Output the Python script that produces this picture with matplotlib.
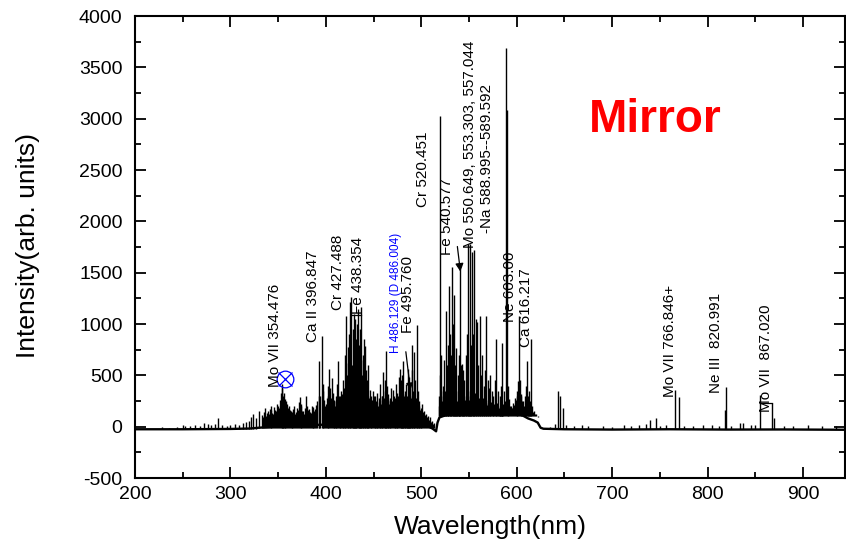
import matplotlib
matplotlib.use("Agg")
import matplotlib.pyplot as plt
from matplotlib.ticker import MultipleLocator

plt.rcParams["axes.unicode_minus"] = False

# continuum under the emission lines (nm, counts)
base_nm = [200, 250, 300, 320, 330, 345, 360, 380, 400, 425, 450, 475, 500, 508,
           512, 515.5, 517, 519, 525, 535, 550, 565, 575, 585, 592, 598, 603,
           606, 612, 618, 622, 625, 628, 650, 700, 760, 820, 880, 944]
base_counts = [-25, -25, -22, -18, -10, 0, 10, 15, 20, 25, 30, 25, 15, 0,
               -20, -45, 40, 90, 110, 130, 140, 150, 120, 110, 130, 180, 240,
               110, 80, 60, 40, -10, -20, -25, -28, -25, -28, -27, -30]

# weak lines below 330 nm (floor -25)
uv_nm = [228, 236, 244, 250, 252, 258, 263, 268, 272, 276, 280, 284, 287, 291,
         296, 300, 305, 309, 313, 316, 319, 322, 324, 327]
uv_top = [-5, -10, 0, 20, 10, 5, 15, 10, 40, 25, 20, 30, 80, 15,
          10, 20, 30, 15, 40, 50, 60, 90, 120, 80]

# 330-515 nm, strong lines (floor -10)
blue_nm = [330, 333, 336, 338, 341, 343, 345, 347, 349, 351, 352.5, 353.6, 354.5,
           355.5, 356.5, 357.5, 358.5, 359.5, 361, 362.5, 364, 366, 368, 370,
           371.5, 372.8, 374, 376, 378, 379.5, 381, 383, 385, 387, 389, 391,
           392.7, 394, 395.8, 397, 399, 401, 402.5, 403.4, 404.5, 406, 407.5,
           409, 410.5, 412, 413.2, 414.5, 416, 417.5, 419, 420.5, 421.6, 423,
           424, 425, 426.8, 428, 429.3, 430.4, 431.5, 432.6, 433.8, 435, 436.2,
           437.3, 438.5, 439.5, 440.8, 442, 443.5, 444.5, 446, 447.5, 449, 451,
           452.5, 454, 455.5, 457, 458.5, 460, 461.5, 462.8, 464, 465.5, 467,
           468.5, 470.5, 472, 473.5, 475, 476.5, 477.5, 479, 480, 481, 482.5,
           484, 485, 486.1, 487.3, 488.5, 490, 490.7, 492, 493.3, 495, 496.5,
           498, 499.5, 501, 503, 505, 507, 509, 511, 513]
blue_top = [150, 110, 180, 130, 170, 200, 120, 160, 220, 180, 330, 420, 380,
            300, 330, 270, 250, 220, 200, 160, 140, 170, 120, 180,
            240, 285, 200, 150, 185, 295, 160, 140, 200, 120, 170, 250,
            640, 300, 880, 420, 200, 280, 400, 565, 380, 470, 330,
            250, 300, 420, 640, 300, 350, 450, 380, 700, 1080, 780,
            900, 1215, 1265, 950, 1100, 1050, 850, 1000, 1150, 800, 950,
            1165, 700, 850, 785, 550, 450, 600, 360, 300, 350, 300,
            250, 330, 280, 420, 300, 530, 450, 740, 400, 320, 250,
            380, 360, 280, 420, 330, 480, 560, 450, 500, 640, 350,
            420, 300, 560, 480, 420, 550, 800, 725, 450, 990, 350,
            250, 180, 220, 150, 120, 100, 90, 60, 40]

# 330-515 nm, weak lines (floor -10)
blue_weak_nm = [334.5, 335.5, 337, 339.5, 340, 342, 344, 346, 348, 350, 352, 355,
                357, 360, 363, 365, 367, 369, 371, 373.5, 375, 377, 380, 382,
                384, 386, 388, 390, 393.3, 396.5, 398, 400, 402, 405, 408,
                409.6, 411, 413.8, 415, 416.8, 418.2, 419.7, 422.3, 423.5,
                425.8, 427.4, 428.6, 430, 431, 432, 434.4, 435.6, 436.8, 438,
                439, 441.3, 442.8, 444, 445.5, 446.8, 448.2, 450, 451.8, 453.2,
                454.8, 456.2, 457.8, 459.3, 460.8, 462.2, 463.4, 464.8, 466.2,
                467.7, 469.3, 471.3, 472.7, 474.2, 475.7, 478.3, 479.6, 480.5,
                481.8, 483.3, 484.5, 485.6, 486.7, 487.9, 489.2, 491.3, 492.6,
                494, 495.7, 497.2, 498.7, 500.2, 502, 504, 506, 508, 510, 512]
blue_weak_top = [90, 140, 100, 150, 120, 160, 130, 190, 150, 200, 260, 280,
                 240, 180, 150, 120, 200, 140, 160, 220, 150, 120, 200, 170,
                 130, 190, 150, 210, 300, 350, 260, 220, 300, 280, 260,
                 200, 250, 300, 280, 320, 260, 300, 500, 620,
                 700, 600, 550, 700, 600, 550, 600, 500, 650, 500,
                 450, 400, 350, 300, 280, 250, 260, 300, 220, 240,
                 200, 260, 220, 300, 280, 350, 300, 260, 220,
                 280, 250, 300, 240, 280, 300, 350, 300, 320,
                 300, 260, 280, 300, 260, 300, 280, 350, 300,
                 280, 250, 200, 160, 150, 140, 110, 90, 70, 50, 30]

# 518-622 nm on the raised continuum, strong lines (floor 100)
green_nm = [518.5, 519.5, 520.1, 521, 522.5, 524, 525.6, 527, 528, 529, 530.5,
            531.5, 532.3, 533.5, 534.4, 535.5, 536.7, 538, 539, 540.6, 541.5,
            542.8, 544, 545, 546.5, 548, 549.2, 550.8, 552, 553.3, 554.5, 555.7,
            557, 558.5, 559.5, 561.3, 562.5, 564, 565.5, 567, 568.3, 569.5, 571,
            572.5, 574, 575.5, 577, 578.8, 580, 582, 583.5, 585, 586.5, 588.5,
            589.8, 591, 592, 594, 596, 598, 600, 601.4, 602.4, 603.5, 605, 607,
            608.5, 610, 610.8, 612, 613, 614, 615.3, 616.5, 618, 620, 622]
green_top = [300, 500, 3030, 700, 400, 650, 1130, 600, 800, 1375, 900,
             700, 1555, 1000, 1280, 600, 765, 500, 700, 1540, 600,
             610, 550, 450, 700, 900, 1780, 1780, 800, 1700, 900, 1720,
             1050, 1020, 600, 1080, 500, 700, 400, 550, 1080, 450, 380,
             500, 350, 300, 450, 850, 350, 300, 400, 820, 350, 3690,
             3080, 400, 265, 200, 230, 280, 350, 445, 1075, 450, 300, 250,
             300, 400, 640, 300, 350, 250, 850, 200, 150, 120, 90]

# 518-622 nm, weak lines (floor 100)
green_weak_nm = [519, 520.6, 521.7, 523, 523.5, 524.7, 526.3, 527.5, 528.5, 529.7,
                 531, 532.8, 533.9, 535, 536.2, 537.3, 537.8, 539.5, 540, 541,
                 542.2, 543.4, 544.5, 545.7, 547.2, 548.6, 549.8, 550.3, 551.4,
                 552.6, 553.9, 555, 556.4, 557.7, 559, 560.3, 562, 563.2, 564.7,
                 566.2, 567.6, 568.9, 570.3, 571.7, 573.2, 574.7, 576.3, 577.8,
                 579.4, 581, 582.7, 584.2, 585.8, 587.2, 590.4, 593, 595, 597,
                 599, 600.7, 604.2, 606, 607.7, 609.2, 611.4, 612.5, 613.6,
                 614.6, 617.2, 619, 621]
green_weak_top = [200, 350, 250, 300, 180, 350, 280, 400, 450, 520,
                  380, 600, 420, 300, 350, 250, 220, 380, 260, 230,
                  320, 250, 220, 260, 300, 350, 260, 230, 300,
                  220, 280, 240, 330, 260, 220, 280, 230, 200, 280,
                  220, 260, 210, 230, 190, 240, 180, 220, 200,
                  230, 180, 200, 170, 220, 250, 220, 200, 180, 210,
                  260, 300, 320, 250, 200, 240, 260, 200, 230,
                  170, 140, 120, 105]

# lines above 625 nm (floor -25)
red_nm = [635, 640, 643.3, 645.7, 648.5, 652, 660, 668, 675, 690, 700, 712,
          720, 728, 735, 740, 745.6, 750, 756, 766.2, 770, 775, 785, 795, 805,
          812, 818.6, 819.6, 825, 833.5, 837, 845, 850, 854.5, 867.7, 869.5,
          880, 890, 905, 920, 935]
red_top = [-5, 30, 345, 300, 185, 20, 10, 15, 5, 10, 0, 20,
           10, 15, 30, 70, 85, 10, 15, 360, 290, 10, 5, 20, 15,
           10, 160, 385, 10, 40, 35, 20, 15, 308, 234, 85,
           10, 5, 15, 5, 10]

# line identifications: text, x (nm), bottom of text (counts)
id_text = ["Mo VII 354.476", "Ca II 396.847", "Cr 427.488", "Fe 438.354",
           "Fe 495.760", "Cr 520.451", "Fe 540.577",
           "Mo 550.649, 553.303, 557.044", "-Na 588.995--589.592",
           "Ne 603.00", "Ca 616.217", "Mo VII 766.846+", "Ne III  820.991",
           "Mo VII  867.020"]
id_x = [346.6, 386.7, 412.2, 433.2, 486.5, 501.9, 527.4, 551.5, 568.9,
        592.7, 610.1, 760.2, 809.1, 861.4]
id_y = [390, 828, 1136, 1100, 915, 2142, 1672, 1737, 1883, 1015, 779,
        292, 325, 146]

text_font = ["Liberation Sans", "DejaVu Sans"]

fig = plt.figure(figsize=(8.46, 5.47), dpi=100)
ax = fig.add_axes([0.1596, 0.1261, 0.8392, 0.8446])

ax.plot(base_nm, base_counts, color="black", lw=1.7)
ax.vlines(uv_nm, -25, uv_top, color="black", lw=1.0)
ax.vlines(blue_nm, -10, blue_top, color="black", lw=1.0)
ax.vlines(blue_weak_nm, -10, blue_weak_top, color="black", lw=1.0)
ax.vlines(green_nm, 100, green_top, color="black", lw=1.0)
ax.vlines(green_weak_nm, 100, green_weak_top, color="black", lw=1.0)
ax.vlines(red_nm, -25, red_top, color="black", lw=1.0)

# brackets joining neighbouring lines
ax.plot([426.8, 437.3], [1090, 1090], color="black", lw=0.9)
ax.plot([854.5, 867.7], [234, 234], color="black", lw=0.9)

for s, x, y in zip(id_text, id_x, id_y):
    ax.text(x, y, s, rotation=90, ha="center", va="bottom",
            fontsize=11, family=text_font)

ax.text(473.5, 717, "H 486.129 (D 486.004)", rotation=90, ha="center",
        va="bottom", fontsize=8.5, color="blue", family=text_font)

ax.annotate("", xy=(488.6, 357), xytext=(483.8, 730),
            arrowprops=dict(arrowstyle="-|>", color="black", lw=0.9,
                            mutation_scale=10, shrinkA=0, shrinkB=0))
ax.annotate("", xy=(541, 1510), xytext=(537.8, 1755),
            arrowprops=dict(arrowstyle="-|>", color="black", lw=0.9,
                            mutation_scale=12, shrinkA=0, shrinkB=0))

ax.plot(357, 465, marker="o", ms=12, mfc="none", mec="blue", mew=0.9)
ax.plot(357, 465, marker="x", ms=10, mec="blue", mew=0.9)

ax.text(745, 2990, "Mirror", color="red", fontsize=33, fontweight="bold",
        ha="center", va="center", family=text_font)

ax.set_xlim(200, 944)
ax.set_ylim(-500, 4000)
ax.xaxis.set_major_locator(MultipleLocator(100))
ax.xaxis.set_minor_locator(MultipleLocator(50))
ax.yaxis.set_major_locator(MultipleLocator(500))
ax.yaxis.set_minor_locator(MultipleLocator(250))
ax.tick_params(which="both", direction="in", top=True, right=True, width=1.3)
ax.tick_params(which="major", length=8)
ax.tick_params(which="minor", length=4.5)
ax.tick_params(axis="x", pad=6)
ax.tick_params(axis="y", pad=9)
for lab in ax.get_xticklabels() + ax.get_yticklabels():
    lab.set_family(text_font)
    lab.set_fontsize(14)
for sp in ax.spines.values():
    sp.set_linewidth(1.5)

ax.set_xlabel("Wavelength(nm)", fontsize=19, family=text_font)
ax.set_ylabel("Intensity(arb. units)", fontsize=19, family=text_font)
ax.xaxis.set_label_coords(0.501, -0.08)
ax.yaxis.set_label_coords(-0.134, 0.504)

fig.savefig("out.png", dpi=100)
